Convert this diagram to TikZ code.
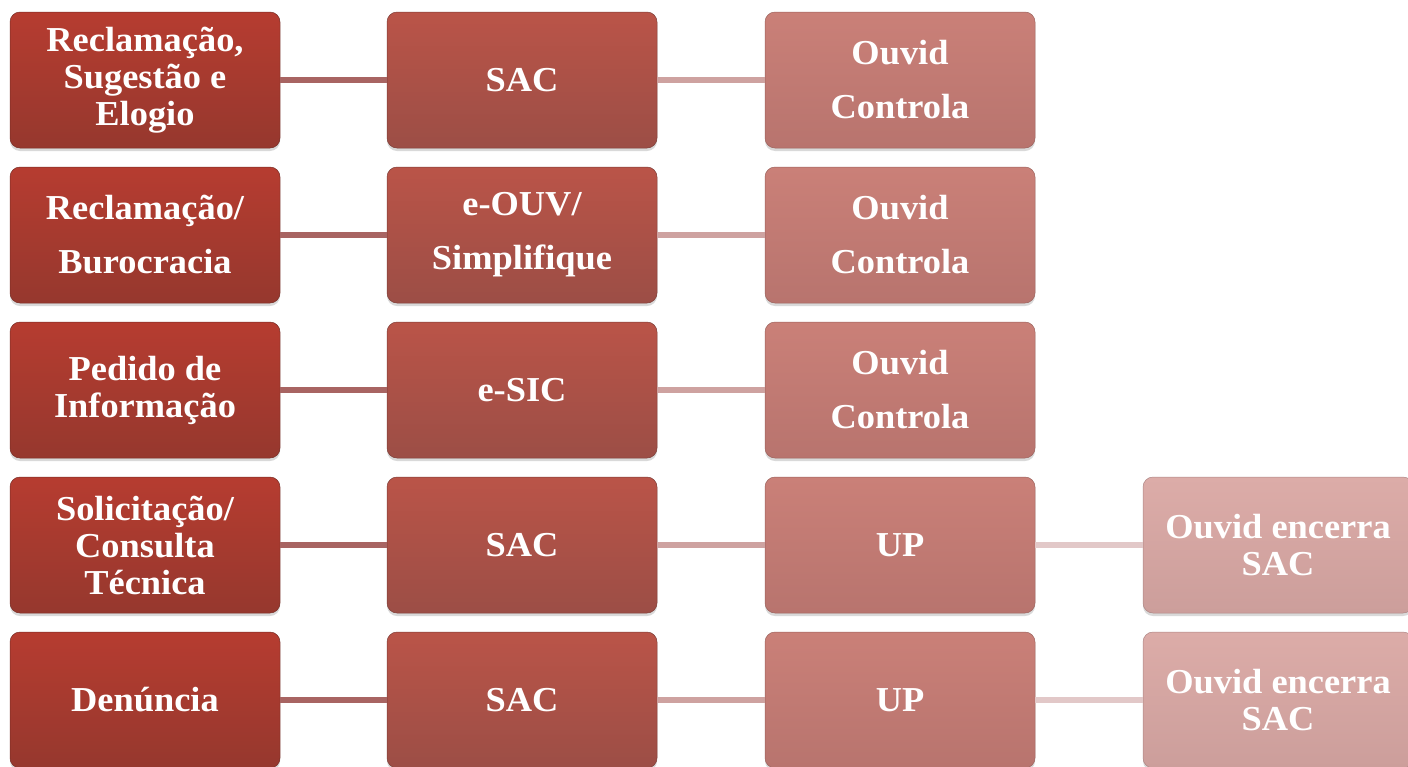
\documentclass[tikz,border=0pt]{standalone}
\usepackage{fontspec}
\setmainfont{Liberation Serif}[FakeStretch=1.04]
\usetikzlibrary{positioning,shadows}

\definecolor{vermA}{RGB}{182,60,48}
\definecolor{vermAb}{RGB}{150,56,46}
\definecolor{vermB}{RGB}{186,84,72}
\definecolor{vermBb}{RGB}{156,78,70}
\definecolor{vermC}{RGB}{202,128,120}
\definecolor{vermCb}{RGB}{184,116,110}
\definecolor{vermD}{RGB}{220,172,168}
\definecolor{vermDb}{RGB}{204,158,155}

\begin{document}
\begin{tikzpicture}[x=1pt, y=1pt,
    caixa/.style={rectangle, rounded corners=10pt, minimum width=270pt, minimum height=136pt,
        align=center, text=white, font=\bfseries\fontsize{35}{37}\selectfont,
        draw=#1, line width=0.5pt,
        drop shadow={opacity=0.3, shadow xshift=0pt, shadow yshift=-3pt}},
    nivel1/.style={caixa=vermAb!80!black, top color=vermA, bottom color=vermAb},
    nivel2/.style={caixa=vermBb!80!black, top color=vermB, bottom color=vermBb},
    nivel3/.style={caixa=vermCb!85!black, top color=vermC, bottom color=vermCb},
    nivel4/.style={caixa=vermDb!85!black, top color=vermD, bottom color=vermDb},
    linha/.style={line width=6pt}
]
    \useasboundingbox (0,0) rectangle (1408,-766);

    % Linhas
    \node[nivel1] (a1) at (145,-80) {Reclamação,\\Sugestão e\\Elogio};
    \node[nivel2] (b1) at (522,-80) {SAC};
    \node[nivel3] (c1) at (900,-80) {Ouvid\\[17pt]Controla};

    \node[nivel1] (a2) at (145,-235) {Reclamação/\\[17pt]Burocracia};
    \node[nivel2] (b2) at (522,-235) {e-OUV/\\[17pt]Simplifique};
    \node[nivel3] (c2) at (900,-235) {Ouvid\\[17pt]Controla};

    \node[nivel1] (a3) at (145,-390) {Pedido de\\Informação};
    \node[nivel2] (b3) at (522,-390) {e-SIC};
    \node[nivel3] (c3) at (900,-390) {Ouvid\\[17pt]Controla};

    \node[nivel1] (a4) at (145,-545) {Solicitação/\\Consulta\\Técnica};
    \node[nivel2] (b4) at (522,-545) {SAC};
    \node[nivel3] (c4) at (900,-545) {UP};
    \node[nivel4] (d4) at (1278,-545) {Ouvid encerra\\SAC};

    \node[nivel1] (a5) at (145,-700) {Denúncia};
    \node[nivel2] (b5) at (522,-700) {SAC};
    \node[nivel3] (c5) at (900,-700) {UP};
    \node[nivel4] (d5) at (1278,-700) {Ouvid encerra\\SAC};

    % Conectores
    \foreach \i in {1,...,5} {
        \draw[linha, color={rgb,255:red,168;green,100;blue,98}] (a\i) -- (b\i);
        \draw[linha, color={rgb,255:red,206;green,162;blue,160}] (b\i) -- (c\i);
    }
    \draw[linha, color={rgb,255:red,226;green,200;blue,200}] (c4) -- (d4);
    \draw[linha, color={rgb,255:red,226;green,200;blue,200}] (c5) -- (d5);

\end{tikzpicture}
\end{document}
